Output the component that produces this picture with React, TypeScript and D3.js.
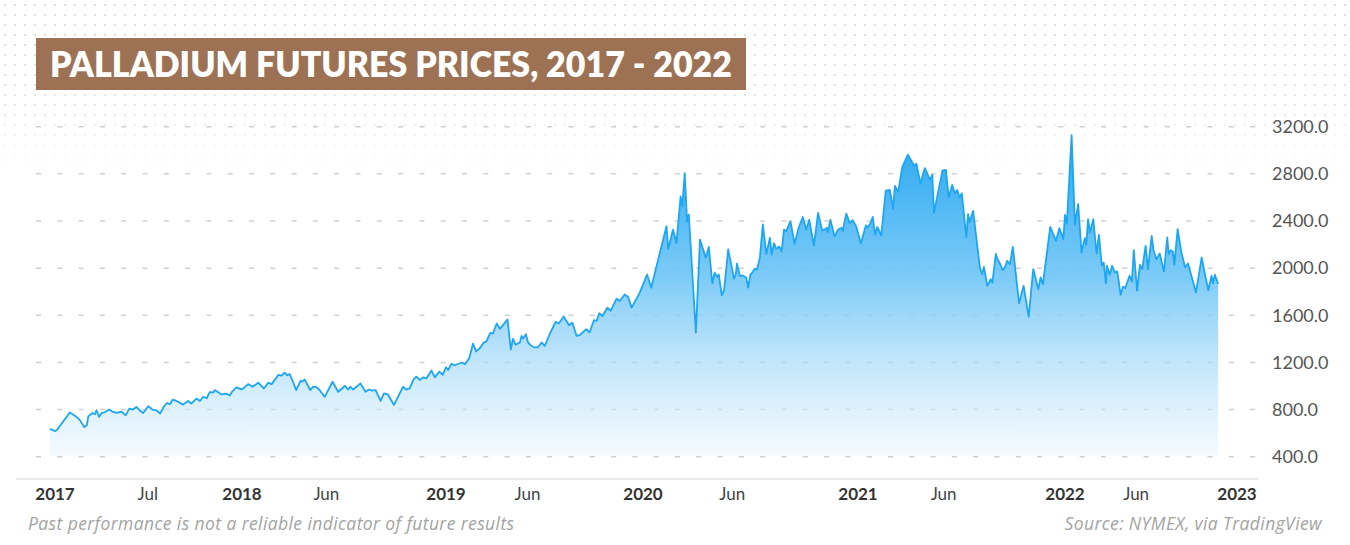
import React from "react";
import * as d3 from "d3";

const W = 1350;
const H = 545;

const titleText = "PALLADIUM FUTURES PRICES, 2017 - 2022";
const footerLeft = "Past performance is not a reliable indicator of future results";
const footerRight = "Source: NYMEX, via TradingView";

const yTicks = [400, 800, 1200, 1600, 2000, 2400, 2800, 3200];

const xTickDates = [
  "2017-01-01", "2017-07-01", "2018-01-01", "2018-06-01", "2019-01-01", "2019-06-01",
  "2020-01-01", "2020-06-01", "2021-01-01", "2021-06-01", "2022-01-01", "2022-06-01", "2023-01-01",
];
const xTickLabels = ["2017", "Jul", "2018", "Jun", "2019", "Jun", "2020", "Jun", "2021", "Jun", "2022", "Jun", "2023"];
const xTickIsYear = [true, false, true, false, true, false, true, false, true, false, true, false, true];

const yearAnchors = ["2017-01-01", "2018-01-01", "2019-01-01", "2020-01-01", "2021-01-01", "2022-01-01", "2023-01-01"];

const prices2017: [string, number][] = [
  ["2016-12-22", 637], ["2017-01-01", 617], ["2017-01-05", 629], ["2017-01-30", 775], ["2017-02-11", 742],
  ["2017-02-19", 708], ["2017-02-27", 651], ["2017-03-04", 665], ["2017-03-07", 742], ["2017-03-15", 771],
  ["2017-03-20", 760], ["2017-03-23", 794], ["2017-03-28", 737], ["2017-04-02", 771], ["2017-04-08", 777],
  ["2017-04-17", 800], ["2017-04-24", 780], ["2017-05-02", 771], ["2017-05-11", 783], ["2017-05-19", 751],
  ["2017-05-26", 808], ["2017-06-02", 800], ["2017-06-09", 822], ["2017-06-15", 794], ["2017-06-22", 771],
  ["2017-07-02", 828], ["2017-07-10", 800], ["2017-07-18", 794], ["2017-07-25", 765], ["2017-08-01", 822],
  ["2017-08-08", 856], ["2017-08-13", 845], ["2017-08-19", 885], ["2017-08-26", 873], ["2017-09-08", 842],
  ["2017-09-18", 873], ["2017-09-24", 850], ["2017-10-04", 893], ["2017-10-11", 873], ["2017-10-17", 908],
  ["2017-10-24", 896], ["2017-10-30", 948], ["2017-11-06", 945], ["2017-11-09", 965], ["2017-11-22", 928],
  ["2017-12-01", 936], ["2017-12-08", 919], ["2017-12-12", 948], ["2017-12-21", 988], ["2017-12-31", 971],
];

const prices2018: [string, number][] = [
  ["2018-01-04", 982], ["2018-01-12", 1016], ["2018-01-20", 993], ["2018-01-30", 1028], ["2018-02-09", 979],
  ["2018-02-17", 1028], ["2018-02-23", 1016], ["2018-03-07", 1094], ["2018-03-13", 1088], ["2018-03-18", 1113],
  ["2018-03-23", 1091], ["2018-03-27", 1102], ["2018-04-01", 1051], ["2018-04-08", 965], ["2018-04-16", 1045],
  ["2018-04-19", 1037], ["2018-04-23", 1056], ["2018-05-03", 965], ["2018-05-08", 993], ["2018-05-13", 993],
  ["2018-05-19", 970], ["2018-05-29", 908], ["2018-06-12", 1036], ["2018-06-22", 951], ["2018-07-04", 1000],
  ["2018-07-10", 970], ["2018-07-14", 993], ["2018-07-19", 970], ["2018-08-01", 1022], ["2018-08-10", 951],
  ["2018-08-16", 970], ["2018-08-22", 960], ["2018-08-28", 965], ["2018-09-06", 873], ["2018-09-12", 937],
  ["2018-09-19", 928], ["2018-09-30", 839], ["2018-10-16", 993], ["2018-10-22", 970], ["2018-10-28", 979],
  ["2018-11-04", 1056], ["2018-11-09", 1079], ["2018-11-15", 1051], ["2018-11-21", 1073], ["2018-11-27", 1065],
  ["2018-12-06", 1131], ["2018-12-12", 1073], ["2018-12-20", 1122], ["2018-12-26", 1094],
];

const prices2019: [string, number][] = [
  ["2019-01-01", 1159], ["2019-01-05", 1136], ["2019-01-11", 1188], ["2019-01-17", 1176], ["2019-01-30", 1199],
  ["2019-02-05", 1185], ["2019-02-13", 1236], ["2019-02-20", 1359], ["2019-02-26", 1293], ["2019-03-05", 1322],
  ["2019-03-12", 1370], ["2019-03-17", 1379], ["2019-03-24", 1450], ["2019-03-29", 1445], ["2019-04-05", 1530],
  ["2019-04-11", 1485], ["2019-04-25", 1565], ["2019-05-01", 1308], ["2019-05-05", 1399], ["2019-05-10", 1350],
  ["2019-05-18", 1370], ["2019-05-21", 1425], ["2019-05-24", 1403], ["2019-05-29", 1440], ["2019-06-02", 1369],
  ["2019-06-08", 1341], ["2019-06-14", 1327], ["2019-06-20", 1327], ["2019-06-27", 1369], ["2019-07-03", 1341],
  ["2019-07-12", 1439], ["2019-07-23", 1544], ["2019-07-29", 1530], ["2019-08-07", 1589], ["2019-08-17", 1515],
  ["2019-08-23", 1538], ["2019-08-31", 1425], ["2019-09-06", 1431], ["2019-09-11", 1454], ["2019-09-18", 1482],
  ["2019-09-24", 1454], ["2019-10-02", 1558], ["2019-10-07", 1552], ["2019-10-12", 1617], ["2019-10-18", 1594],
  ["2019-10-27", 1665], ["2019-11-02", 1637], ["2019-11-13", 1741], ["2019-11-19", 1721], ["2019-11-28", 1777],
  ["2019-12-04", 1758], ["2019-12-11", 1665], ["2019-12-26", 1792],
];

const prices2020: [string, number][] = [
  ["2020-01-08", 1946], ["2020-01-15", 1834], ["2020-01-24", 2017], ["2020-02-10", 2355], ["2020-02-13", 2163],
  ["2020-02-21", 2327], ["2020-02-27", 2214], ["2020-03-05", 2608], ["2020-03-08", 2524], ["2020-03-12", 2806],
  ["2020-03-16", 2397], ["2020-03-19", 2454], ["2020-03-31", 1454], ["2020-04-07", 2242], ["2020-04-17", 2087],
  ["2020-04-22", 2180], ["2020-04-28", 1870], ["2020-05-02", 1961], ["2020-05-06", 1927], ["2020-05-09", 1946],
  ["2020-05-14", 1769], ["2020-05-18", 1814], ["2020-05-25", 2158], ["2020-06-04", 1910], ["2020-06-07", 1946],
  ["2020-06-09", 2039], ["2020-06-14", 1932], ["2020-06-19", 1938], ["2020-06-25", 1918], ["2020-06-28", 1834],
  ["2020-07-02", 1946], ["2020-07-05", 1961], ["2020-07-09", 1994], ["2020-07-13", 1989], ["2020-07-18", 2091],
  ["2020-07-23", 2371], ["2020-07-29", 2120], ["2020-08-04", 2257], ["2020-08-07", 2114], ["2020-08-11", 2211],
  ["2020-08-15", 2163], ["2020-08-20", 2183], ["2020-08-24", 2143], ["2020-08-28", 2326], ["2020-09-01", 2314],
  ["2020-09-08", 2400], ["2020-09-15", 2206], ["2020-09-22", 2343], ["2020-09-29", 2434], ["2020-10-05", 2326],
  ["2020-10-10", 2411], ["2020-10-18", 2191], ["2020-10-25", 2469], ["2020-11-01", 2320], ["2020-11-05", 2326],
  ["2020-11-09", 2343], ["2020-11-11", 2306], ["2020-11-15", 2411], ["2020-11-22", 2269], ["2020-11-28", 2326],
  ["2020-12-04", 2343], ["2020-12-06", 2314], ["2020-12-12", 2463], ["2020-12-18", 2383], ["2020-12-23", 2406],
  ["2020-12-29", 2354],
];

const prices2021: [string, number][] = [
  ["2021-01-06", 2211], ["2021-01-15", 2363], ["2021-01-17", 2343], ["2021-01-22", 2371], ["2021-01-27", 2434],
  ["2021-01-31", 2286], ["2021-02-04", 2349], ["2021-02-11", 2277], ["2021-02-19", 2657], ["2021-02-26", 2663],
  ["2021-03-04", 2506], ["2021-03-07", 2697], ["2021-03-13", 2649], ["2021-03-20", 2857], ["2021-03-30", 2963],
  ["2021-04-10", 2869], ["2021-04-14", 2886], ["2021-04-21", 2720], ["2021-04-29", 2849], ["2021-05-08", 2749],
  ["2021-05-12", 2791], ["2021-05-15", 2469], ["2021-05-30", 2829], ["2021-06-05", 2834], ["2021-06-10", 2600],
  ["2021-06-16", 2706], ["2021-06-21", 2634], ["2021-06-25", 2663], ["2021-06-29", 2600], ["2021-07-03", 2634],
  ["2021-07-11", 2263], ["2021-07-14", 2457], ["2021-07-17", 2391], ["2021-07-23", 2486], ["2021-08-04", 2000],
  ["2021-08-08", 1949], ["2021-08-11", 2011], ["2021-08-17", 1849], ["2021-08-23", 1906], ["2021-08-26", 1877],
  ["2021-09-01", 2120], ["2021-09-03", 2086], ["2021-09-09", 2031], ["2021-09-13", 1983], ["2021-09-17", 2006],
  ["2021-09-21", 2062], ["2021-09-26", 2034], ["2021-10-01", 2181], ["2021-10-12", 1701], ["2021-10-20", 1850],
  ["2021-10-29", 1588], ["2021-11-06", 1992], ["2021-11-15", 1822], ["2021-11-19", 1921], ["2021-11-23", 1865],
  ["2021-12-06", 2350], ["2021-12-16", 2231], ["2021-12-22", 2339], ["2021-12-29", 2246],
];

const prices2022: [string, number][] = [
  ["2022-01-01", 2452], ["2022-01-05", 2378], ["2022-01-15", 3129], ["2022-01-22", 2367], ["2022-01-29", 2542],
  ["2022-02-05", 2133], ["2022-02-12", 2254], ["2022-02-15", 2198], ["2022-02-19", 2415], ["2022-02-23", 2302],
  ["2022-03-02", 2415], ["2022-03-09", 2124], ["2022-03-14", 2282], ["2022-03-20", 2020], ["2022-03-24", 2048],
  ["2022-03-29", 1870], ["2022-03-31", 2020], ["2022-04-06", 1944], ["2022-04-11", 2020], ["2022-04-17", 1963],
  ["2022-04-22", 1972], ["2022-04-29", 1774], ["2022-05-04", 1842], ["2022-05-09", 1831], ["2022-05-18", 1935],
  ["2022-05-23", 1887], ["2022-05-27", 2152], ["2022-06-03", 1808], ["2022-06-09", 2028], ["2022-06-14", 1992],
  ["2022-06-21", 2189], ["2022-06-26", 1992], ["2022-07-04", 2274], ["2022-07-08", 2147], ["2022-07-14", 2076],
  ["2022-07-21", 2124], ["2022-07-30", 1972], ["2022-08-06", 2260], ["2022-08-09", 2119], ["2022-08-13", 2152],
  ["2022-08-18", 2141], ["2022-08-21", 2028], ["2022-08-28", 2330], ["2022-09-05", 2133], ["2022-09-13", 2006],
  ["2022-09-19", 2040], ["2022-10-06", 1794], ["2022-10-18", 2090], ["2022-10-25", 1949], ["2022-11-01", 1814],
  ["2022-11-08", 1935], ["2022-11-11", 1870], ["2022-11-15", 1944], ["2022-11-22", 1865],
];

const parse = d3.utcParse("%Y-%m-%d");

type Pt = { date: Date; value: number };

export default function App() {
  const series: Pt[] = [prices2017, prices2018, prices2019, prices2020, prices2021, prices2022]
    .flat()
    .map(([d, v]) => ({ date: parse(d) as Date, value: v }));

  const x = d3
    .scaleUtc()
    .domain(yearAnchors.map((d) => parse(d) as Date))
    .range([55, 242, 446, 643, 858, 1065, 1237]);

  const y = d3.scaleLinear().domain([400, 3200]).range([456.7, 126.7]);

  const line = d3
    .line<Pt>()
    .x((d) => x(d.date))
    .y((d) => y(d.value));

  const area = d3
    .area<Pt>()
    .x((d) => x(d.date))
    .y0(y(400) - 1)
    .y1((d) => y(d.value));

  const gridX0 = 36;
  const gridX1 = 1258;
  const uiFont = "Lato, 'Open Sans', sans-serif";
  const noteFont = "'Open Sans', 'Noto Sans', sans-serif";

  return (
    <svg
      width={W}
      height={H}
      viewBox={`0 0 ${W} ${H}`}
      style={{ position: "absolute", left: 0, top: 0, display: "block", background: "#ffffff" }}
    >
      <defs>
        <pattern id="dots" x="0" y="0" width="10" height="10" patternUnits="userSpaceOnUse">
          <circle cx="5" cy="5" r="1.1" fill="#d6d6d6" />
        </pattern>
        <linearGradient id="dotFade" x1="0" y1="0" x2="0" y2="1">
          <stop offset="0" stopColor="#fff" stopOpacity="1" />
          <stop offset="0.55" stopColor="#fff" stopOpacity="0.8" />
          <stop offset="1" stopColor="#fff" stopOpacity="0" />
        </linearGradient>
        <mask id="dotMask" maskUnits="userSpaceOnUse" x="0" y="0" width={W} height="170">
          <rect x="0" y="0" width={W} height="170" fill="url(#dotFade)" />
        </mask>
        <linearGradient id="areaFill" gradientUnits="userSpaceOnUse" x1="0" y1={y(3200)} x2="0" y2={y(400)}>
          <stop offset="0" stopColor="#22a5f1" stopOpacity="1" />
          <stop offset="0.45" stopColor="#6cc4f6" stopOpacity="0.9" />
          <stop offset="1" stopColor="#e8f5fd" stopOpacity="0.5" />
        </linearGradient>
      </defs>

      <rect x="0" y="0" width={W} height="170" fill="url(#dots)" mask="url(#dotMask)" />

      {yTicks.map((t) => (
        <line
          key={`g${t}`}
          x1={gridX0}
          x2={gridX1}
          y1={y(t)}
          y2={y(t)}
          stroke="#cfcfcf"
          strokeWidth={1.5}
          strokeDasharray="5 16.3"
        />
      ))}

      <path d={area(series) || ""} fill="url(#areaFill)" />
      <path d={line(series) || ""} fill="none" stroke="#1ea6f2" strokeWidth={1.8} strokeLinejoin="round" />

      {yTicks.map((t) => (
        <text key={`yl${t}`} x={1272} y={y(t)} dy="0.35em" fontFamily={uiFont} fontSize={18} fill="#555555">
          {d3.format(".1f")(t)}
        </text>
      ))}

      <line x1={16} x2={gridX1} y1={479} y2={479} stroke="#e3e3e3" strokeWidth={1.5} />

      {xTickDates.map((d, i) => (
        <text
          key={`xl${i}`}
          x={x(parse(d) as Date)}
          y={494}
          dy="0.35em"
          textAnchor="middle"
          fontFamily={uiFont}
          fontSize={17}
          fontWeight={xTickIsYear[i] ? 700 : 400}
          fill={xTickIsYear[i] ? "#333333" : "#444444"}
        >
          {xTickLabels[i]}
        </text>
      ))}

      <rect x={36} y={38} width={710} height={52} fill="#9d7254" />
      <text
        x={50}
        y={77}
        fontFamily={uiFont}
        fontSize={35}
        fontWeight={800}
        fill="#ffffff"
        textLength={682}
        lengthAdjust="spacingAndGlyphs"
      >
        {titleText}
      </text>

      <text
        x={28}
        y={524}
        dy="0.35em"
        fontFamily={noteFont}
        fontStyle="italic"
        fontSize={17.5}
        letterSpacing={0.4}
        fill="#a3a3a3"
      >
        {footerLeft}
      </text>
      <text
        x={1322}
        y={524}
        dy="0.35em"
        textAnchor="end"
        fontFamily={noteFont}
        fontStyle="italic"
        fontSize={17.5}
        letterSpacing={0.4}
        fill="#a3a3a3"
      >
        {footerRight}
      </text>
    </svg>
  );
}
